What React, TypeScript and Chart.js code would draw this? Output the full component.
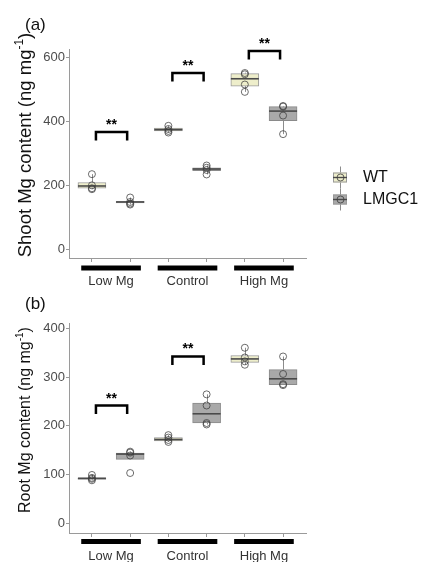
import React, { useEffect, useRef } from "react";
import { Chart, registerables } from "chart.js";
Chart.register(...registerables);

const groups = ["Low Mg", "Control", "High Mg"];
const genotypes = ["WT", "LMGC1"];

// Box statistics per group: [min, q1, median, q3, max]
const shootWtBox = [[188, 191, 198, 209, 235], [365, 370, 374, 379, 386], [492, 510, 533, 549, 552]];
const shootLmBox = [[140, 145, 148, 150, 162], [234, 246, 251, 255, 262], [360, 402, 432, 446, 448]];
const rootWtBox = [[88, 90, 92, 93, 99], [167, 169, 172, 176, 181], [326, 331, 338, 345, 361]];
const rootLmBox = [[131, 131, 142, 144, 147], [203, 206, 225, 247, 265], [285, 285, 297, 316, 343]];

// Individual measurements per group
const shootWtPts = [[235, 200, 191, 188], [386, 376, 370, 365], [551, 547, 515, 492]];
const shootLmPts = [[162, 148, 143, 140], [262, 255, 248, 234], [448, 446, 418, 360]];
const rootWtPts = [[99, 93, 91, 88], [181, 176, 171, 167], [361, 341, 333, 326]];
const rootLmPts = [[147, 145, 139, 103], [265, 242, 206, 203], [343, 307, 286, 284]];

// Significance bracket heights (data units), null = none
const shootSig = [367, 551, 620];
const rootSig = [242, 343, null];

// Axis ticks
const shootTicks = [0, 200, 400, 600];
const rootTicks = [0, 100, 200, 300, 400];

const WT_FILL = "#EEEECB";
const LM_FILL = "#A9A9A9";
const FONT = '"Liberation Sans", Arial, sans-serif';

type Cfg = {
  panel: string;
  panelY: number;
  title: string;
  titleSize: number;
  titleCy: number;
  wt: number[][];
  lm: number[][];
  sig: (number | null)[];
  sigDrop: number;
  barOffset: number;
  labelOffset: number;
  legend: boolean;
};

function makeDecor(cfg: Cfg) {
  return {
    id: "decor",
    beforeDatasetsDraw(chart: any) {
      const { ctx, scales } = chart;
      const x = scales.x, y = scales.y;
      ctx.save();
      ctx.strokeStyle = "#8c8c8c";
      ctx.lineWidth = 1;
      [cfg.wt, cfg.lm].forEach((boxes, k) =>
        boxes.forEach((b, g) => {
          const px = Math.round(x.getPixelForValue(g * 2 + k)) + 0.5;
          ctx.beginPath();
          ctx.moveTo(px, y.getPixelForValue(b[3]));
          ctx.lineTo(px, y.getPixelForValue(b[4]));
          ctx.moveTo(px, y.getPixelForValue(b[1]));
          ctx.lineTo(px, y.getPixelForValue(b[0]));
          ctx.stroke();
        })
      );
      ctx.restore();
    },
    afterDatasetDraw(chart: any, args: any) {
      const ds = chart.data.datasets[args.index];
      if (ds.type !== "bar") return;
      const boxes = ds.label === "WT" ? cfg.wt : cfg.lm;
      const { ctx, scales } = chart;
      const y = scales.y;
      ctx.save();
      ctx.strokeStyle = "#4a4a4a";
      ctx.lineWidth = 1.6;
      args.meta.data.forEach((el: any, g: number) => {
        const py = y.getPixelForValue(boxes[g][2]);
        ctx.beginPath();
        ctx.moveTo(el.x - el.width / 2, py);
        ctx.lineTo(el.x + el.width / 2, py);
        ctx.stroke();
      });
      ctx.restore();
    },
    afterDraw(chart: any) {
      const { ctx, scales, chartArea } = chart;
      const x = scales.x, y = scales.y;
      ctx.save();
      // significance brackets
      ctx.strokeStyle = "#000";
      ctx.fillStyle = "#000";
      ctx.lineWidth = 2.5;
      ctx.lineJoin = "miter";
      cfg.sig.forEach((v, g) => {
        if (v == null) return;
        const x1 = x.getPixelForValue(g * 2) + 4;
        const x2 = x.getPixelForValue(g * 2 + 1) - 3;
        const py = y.getPixelForValue(v);
        ctx.beginPath();
        ctx.moveTo(x1, py + cfg.sigDrop);
        ctx.lineTo(x1, py);
        ctx.lineTo(x2, py);
        ctx.lineTo(x2, py + cfg.sigDrop);
        ctx.stroke();
        ctx.font = `bold 14px ${FONT}`;
        ctx.textAlign = "center";
        ctx.textBaseline = "alphabetic";
        ctx.fillText("**", (x1 + x2) / 2, py - 3);
      });
      // group bars and labels
      groups.forEach((name, g) => {
        const a = x.getPixelForValue(g * 2 - 0.28);
        const b = x.getPixelForValue(g * 2 + 1.28);
        ctx.fillStyle = "#000";
        ctx.fillRect(a, chartArea.bottom + cfg.barOffset - 2.5, b - a, 5);
        ctx.fillStyle = "#333";
        ctx.font = `13px ${FONT}`;
        ctx.textAlign = "center";
        ctx.textBaseline = "alphabetic";
        ctx.fillText(name, x.getPixelForValue(g * 2 + 0.5), chartArea.bottom + cfg.labelOffset);
      });
      // panel label
      ctx.fillStyle = "#111";
      ctx.font = `17px ${FONT}`;
      ctx.textAlign = "left";
      ctx.fillText(cfg.panel, 25, cfg.panelY);
      // y title with superscript
      const s = cfg.titleSize;
      const main = cfg.title + " (ng mg";
      const sup = "-1";
      const tail = ")";
      ctx.save();
      ctx.translate(26, cfg.titleCy);
      ctx.rotate(-Math.PI / 2);
      ctx.font = `${s}px ${FONT}`;
      const w1 = ctx.measureText(main).width;
      const w3 = ctx.measureText(tail).width;
      ctx.font = `${Math.round(s * 0.65)}px ${FONT}`;
      const w2 = ctx.measureText(sup).width;
      let tx = -(w1 + w2 + w3) / 2;
      const base = 0.26 * s;
      ctx.textAlign = "left";
      ctx.fillStyle = "#111";
      ctx.font = `${s}px ${FONT}`;
      ctx.fillText(main, tx, base);
      tx += w1;
      ctx.font = `${Math.round(s * 0.65)}px ${FONT}`;
      ctx.fillText(sup, tx, base - 0.42 * s);
      tx += w2;
      ctx.font = `${s}px ${FONT}`;
      ctx.fillText(tail, tx, base);
      ctx.restore();
      // legend
      if (cfg.legend) {
        genotypes.forEach((name, i) => {
          const cy = 177.5 + i * 22;
          const cx = 340;
          ctx.strokeStyle = "#8c8c8c";
          ctx.lineWidth = 1;
          ctx.beginPath();
          ctx.moveTo(cx + 0.5, cy - 11);
          ctx.lineTo(cx + 0.5, cy + 11);
          ctx.stroke();
          ctx.fillStyle = i === 0 ? WT_FILL : LM_FILL;
          ctx.fillRect(333, cy - 5, 14, 10);
          ctx.strokeStyle = "#9a9a9a";
          ctx.strokeRect(333.5, cy - 4.5, 13, 9);
          ctx.strokeStyle = "#4a4a4a";
          ctx.lineWidth = 1.4;
          ctx.beginPath();
          ctx.moveTo(333, cy);
          ctx.lineTo(347, cy);
          ctx.stroke();
          ctx.strokeStyle = "rgba(60,60,60,0.8)";
          ctx.lineWidth = 1;
          ctx.beginPath();
          ctx.arc(cx + 0.5, cy, 3.5, 0, Math.PI * 2);
          ctx.stroke();
          ctx.fillStyle = "#111";
          ctx.font = `16px ${FONT}`;
          ctx.textAlign = "left";
          ctx.textBaseline = "middle";
          ctx.fillText(name, 363, cy);
        });
      }
      ctx.restore();
    },
  };
}

function buildConfig(
  cfg: Cfg,
  wtPts: number[][],
  lmPts: number[][],
  ticks: number[],
  yMin: number,
  yMax: number,
  pad: { top: number; bottom: number }
): any {
  const pts = (arr: number[][], k: number) =>
    arr.flatMap((vals, g) => vals.map((v) => ({ x: g * 2 + k, y: v })));
  const bars = (boxes: number[][], k: number) => boxes.map((b, g) => ({ x: g * 2 + k, y: [b[1], b[3]] }));
  const pointStyle = {
    pointRadius: 3.5,
    pointBorderWidth: 1,
    pointBorderColor: "rgba(60,60,60,0.75)",
    pointBackgroundColor: "rgba(0,0,0,0)",
  };
  return {
    type: "bar",
    data: {
      datasets: [
        { type: "scatter", label: "WT", data: pts(wtPts, 0), ...pointStyle },
        { type: "scatter", label: "LMGC1", data: pts(lmPts, 1), ...pointStyle },
        {
          type: "bar", label: "WT", data: bars(cfg.wt, 0), backgroundColor: WT_FILL,
          borderColor: "#9a9a9a", borderWidth: 1, borderSkipped: false, grouped: false, barThickness: 28,
        },
        {
          type: "bar", label: "LMGC1", data: bars(cfg.lm, 1), backgroundColor: LM_FILL,
          borderColor: "#8a8a8a", borderWidth: 1, borderSkipped: false, grouped: false, barThickness: 28,
        },
      ],
    },
    options: {
      responsive: false,
      animation: false,
      devicePixelRatio: 1,
      layout: { padding: { left: 14, right: 121, top: pad.top, bottom: pad.bottom } },
      plugins: { legend: { display: false }, tooltip: { enabled: false } },
      scales: {
        x: {
          type: "linear",
          offset: false,
          min: -0.6,
          max: 5.6,
          afterBuildTicks: (s: any) => {
            s.ticks = [0, 1, 2, 3, 4, 5].map((v) => ({ value: v }));
          },
          afterFit: (s: any) => {
            s.height = 4;
          },
          ticks: { display: false },
          grid: { offset: false, drawOnChartArea: false, drawTicks: true, tickLength: 4, color: "#9a9a9a" },
          border: { display: true, color: "#9a9a9a", width: 1 },
        },
        y: {
          type: "linear",
          min: yMin,
          max: yMax,
          afterBuildTicks: (s: any) => {
            s.ticks = ticks.map((v) => ({ value: v }));
          },
          afterFit: (s: any) => {
            s.width = 55;
          },
          ticks: { color: "#4d4d4d", font: { family: FONT, size: 13 }, padding: 1 },
          grid: { drawOnChartArea: false, drawTicks: true, tickLength: 3, color: "#9a9a9a" },
          border: { display: true, color: "#9a9a9a", width: 1 },
        },
      },
    },
    plugins: [makeDecor(cfg)],
  };
}

export default function App() {
  const ref1 = useRef<HTMLCanvasElement>(null);
  const ref2 = useRef<HTMLCanvasElement>(null);

  useEffect(() => {
    const c1 = new Chart(
      ref1.current as HTMLCanvasElement,
      buildConfig(
        {
          panel: "(a)", panelY: 29.5, title: "Shoot Mg content", titleSize: 18.5, titleCy: 145,
          wt: shootWtBox, lm: shootLmBox, sig: shootSig, sigDrop: 8.5,
          barOffset: 10, labelOffset: 27, legend: true,
        },
        shootWtPts, shootLmPts, shootTicks, -27, 626, { top: 49, bottom: 28 }
      )
    );
    const c2 = new Chart(
      ref2.current as HTMLCanvasElement,
      buildConfig(
        {
          panel: "(b)", panelY: 23.5, title: "Root Mg content", titleSize: 16, titleCy: 135,
          wt: rootWtBox, lm: rootLmBox, sig: rootSig, sigDrop: 8.5,
          barOffset: 8.5, labelOffset: 26.5, legend: false,
        },
        rootWtPts, rootLmPts, rootTicks, -20.6, 412, { top: 38, bottom: 25 }
      )
    );
    return () => {
      c1.destroy();
      c2.destroy();
    };
  }, []);

  return (
    <div style={{ position: "absolute", left: 0, top: 0, width: 427, height: 562, background: "#fff", overflow: "hidden" }}>
      <canvas ref={ref1} width={427} height={290} style={{ position: "absolute", left: 0, top: 0, width: 427, height: 290 }} />
      <canvas ref={ref2} width={427} height={277} style={{ position: "absolute", left: 0, top: 285, width: 427, height: 277 }} />
    </div>
  );
}
